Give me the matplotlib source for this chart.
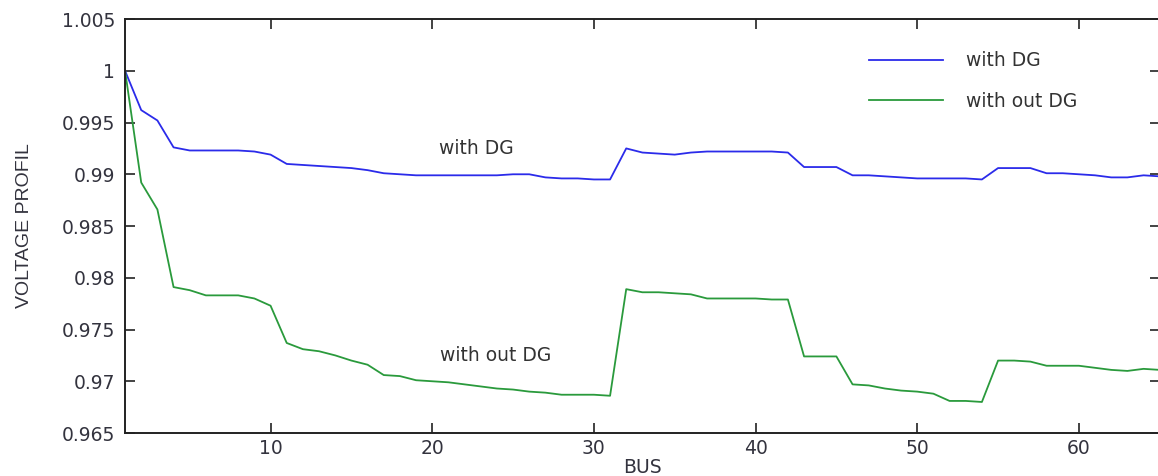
import numpy as np
import matplotlib
matplotlib.use("Agg")
import matplotlib.pyplot as plt

# bus index and voltage profile (p.u.)
bus = np.arange(1, 66)

with_dg = [1.0000, 0.9962, 0.9952, 0.9926, 0.9923, 0.9923, 0.9923, 0.9923, 0.9922, 0.9919,
           0.9910, 0.9909, 0.9908, 0.9907, 0.9906, 0.9904, 0.9901, 0.9900, 0.9899, 0.9899,
           0.9899, 0.9899, 0.9899, 0.9899, 0.9900, 0.9900, 0.9897, 0.9896, 0.9896, 0.9895,
           0.9895, 0.9925, 0.9921, 0.9920, 0.9919, 0.9921, 0.9922, 0.9922, 0.9922, 0.9922,
           0.9922, 0.9921, 0.9907, 0.9907, 0.9907, 0.9899, 0.9899, 0.9898, 0.9897, 0.9896,
           0.9896, 0.9896, 0.9896, 0.9895, 0.9906, 0.9906, 0.9906, 0.9901, 0.9901, 0.9900,
           0.9899, 0.9897, 0.9897, 0.9899, 0.9898]

without_dg = [1.0000, 0.9892, 0.9866, 0.9791, 0.9788, 0.9783, 0.9783, 0.9783, 0.9780, 0.9773,
              0.9737, 0.9731, 0.9729, 0.9725, 0.9720, 0.9716, 0.9706, 0.9705, 0.9701, 0.9700,
              0.9699, 0.9697, 0.9695, 0.9693, 0.9692, 0.9690, 0.9689, 0.9687, 0.9687, 0.9687,
              0.9686, 0.9789, 0.9786, 0.9786, 0.9785, 0.9784, 0.9780, 0.9780, 0.9780, 0.9780,
              0.9779, 0.9779, 0.9724, 0.9724, 0.9724, 0.9697, 0.9696, 0.9693, 0.9691, 0.9690,
              0.9688, 0.9681, 0.9681, 0.9680, 0.9720, 0.9720, 0.9719, 0.9715, 0.9715, 0.9715,
              0.9713, 0.9711, 0.9710, 0.9712, 0.9711]

x_ticks = [10, 20, 30, 40, 50, 60]
y_ticks = [0.965, 0.97, 0.975, 0.98, 0.985, 0.99, 0.995, 1.0, 1.005]
y_tick_labels = ["0.965", "0.97", "0.975", "0.98", "0.985", "0.99", "0.995", "1", "1.005"]

plt.rcParams['font.family'] = ['DejaVu Sans']

fig = plt.figure(figsize=(11.58, 4.76), dpi=100)
ax = fig.add_axes([0.108, 0.0903, 0.8935, 0.8697])

blue = '#2b2bea'
green = '#2a9a3c'
ax.plot(bus, with_dg, color=blue, lw=1.3, label='with DG')
ax.plot(bus, without_dg, color=green, lw=1.3, label='with out DG')

ax.set_xlim(1, 65)
ax.set_ylim(0.965, 1.005)
ax.set_xticks(x_ticks)
ax.set_yticks(y_ticks)
ax.set_yticklabels(y_tick_labels)

tick_color = '#33333e'
ax.tick_params(direction='in', length=7, width=1.2, top=True, right=True,
               labelsize=13.5, labelcolor=tick_color, color='#222222')
ax.tick_params(axis='y', pad=7)
ax.tick_params(axis='x', pad=4.5)
for s in ax.spines.values():
    s.set_linewidth(1.4)
    s.set_color('#222222')

ax.set_xlabel('BUS', fontsize=13.5, color=tick_color, labelpad=0)
ax.set_ylabel('VOLTAGE PROFIL', fontsize=14, color=tick_color, labelpad=21,
              family='Liberation Sans')

# curve annotations
ax.text(20.4, 0.9925, 'with DG', fontsize=13.5, color='#333333', va='center', ha='left')
ax.text(20.5, 0.9725, 'with out DG', fontsize=13.5, color='#333333', va='center', ha='left')

leg = ax.legend(loc='upper left', bbox_to_anchor=(0.719, 0.922), frameon=False,
                fontsize=13.5, handlelength=3.95, handletextpad=1.25, labelspacing=1.15,
                borderpad=0, borderaxespad=0)
for t in leg.get_texts():
    t.set_color('#333333')

fig.savefig('out.png', dpi=100)
